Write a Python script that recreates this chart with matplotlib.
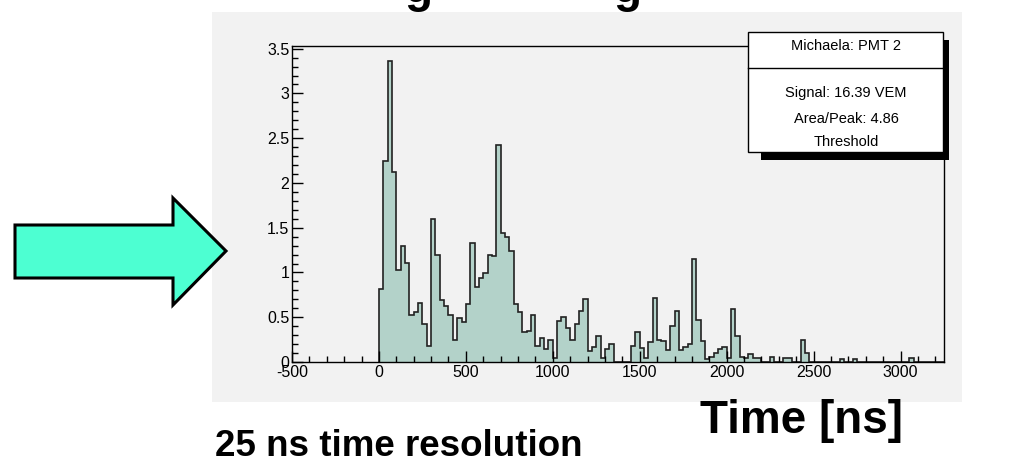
import numpy as np
import matplotlib
matplotlib.use("Agg")
import matplotlib.pyplot as plt
from matplotlib.patches import Rectangle, Polygon

# ---------------- data ----------------
bin_width = 25  # ns
first_edge = 0  # ns
counts = [
    0.82, 2.25, 3.36, 2.12, 1.03, 1.30, 1.11, 0.52, 0.56, 0.66,   # 0-250
    0.42, 0.18, 1.60, 1.20, 0.69, 0.62, 0.52, 0.25, 0.49, 0.45,   # 250-500
    0.65, 1.33, 0.84, 0.94, 0.99, 1.20, 1.18, 2.42, 1.44, 1.40,   # 500-750
    1.24, 0.65, 0.56, 0.33, 0.35, 0.53, 0.18, 0.27, 0.14, 0.25,   # 750-1000
    0.05, 0.46, 0.50, 0.38, 0.25, 0.42, 0.57, 0.70, 0.12, 0.17,   # 1000-1250
    0.29, 0.05, 0.15, 0.20, 0.00, 0.00, 0.00, 0.00, 0.18, 0.34,   # 1250-1500
    0.16, 0.04, 0.22, 0.72, 0.25, 0.23, 0.13, 0.40, 0.57, 0.13,   # 1500-1750
    0.17, 0.20, 1.15, 0.47, 0.24, 0.03, 0.06, 0.10, 0.14, 0.17,   # 1750-2000
    0.05, 0.59, 0.29, 0.06, 0.04, 0.09, 0.04, 0.04, 0.00, 0.00,   # 2000-2250
    0.06, 0.00, 0.00, 0.05, 0.04, 0.00, 0.00, 0.25, 0.10, 0.00,   # 2250-2500
    0.00, 0.00, 0.00, 0.00, 0.00, 0.00, 0.03, 0.00, 0.00, 0.03,   # 2500-2750
    0.00, 0.00, 0.00, 0.00, 0.00, 0.00, 0.00, 0.00, 0.00, 0.00,   # 2750-3000
    0.00, 0.00, 0.045, 0.00, 0.00, 0.00, 0.00, 0.00, 0.00, 0.00,  # 3000-3250
]
x_ticks = [-500, 0, 500, 1000, 1500, 2000, 2500, 3000]
y_ticks = [0, 0.5, 1, 1.5, 2, 2.5, 3, 3.5]
y_tick_labels = ["0", "0.5", "1", "1.5", "2", "2.5", "3", "3.5"]
x_range = (-490, 3250)
y_range = (0, 3.53)
stats_title = "Michaela: PMT 2"
stats_lines = ["Signal: 16.39 VEM", "Area/Peak: 4.86", "Threshold"]
x_label = "Time [ns]"
note = "25 ns time resolution"

# ---------------- figure ----------------
W, H = 1012, 463
fig = plt.figure(figsize=(W / 100, H / 100), dpi=100, facecolor="white")
FONT = ["Liberation Sans", "DejaVu Sans"]

def frac(x0, y0, x1, y1):
    return [x0 / W, 1 - y1 / H, (x1 - x0) / W, (y1 - y0) / H]

# background layer (pixel coordinates)
bg = fig.add_axes([0, 0, 1, 1], zorder=0)
bg.set_xlim(0, W)
bg.set_ylim(H, 0)
bg.axis("off")
bg.add_patch(Rectangle((212, 12), 962 - 212, 402 - 12, facecolor="#f2f2f2", edgecolor="none"))
arrow = Polygon([(15, 225), (173, 225), (173, 198), (226, 251), (173, 305), (173, 278), (15, 278)],
                closed=True, facecolor="#4dffd2", edgecolor="black", linewidth=2.2, joinstyle="miter")
bg.add_patch(arrow)
for gx in (418, 627):
    bg.text(gx, 1.5, "g", ha="center", va="baseline", fontsize=33, fontweight="bold",
            family=FONT, color="black")
bg.text(700, 433, x_label, ha="left", va="baseline", fontsize=33, fontweight="bold", family=FONT)
bg.text(215, 456, note, ha="left", va="baseline", fontsize=26.5, fontweight="bold", family=FONT)

# main histogram axes
ax = fig.add_axes(frac(292, 46, 944, 362), zorder=1)
ax.set_facecolor("#f2f2f2")
edges = first_edge + bin_width * np.arange(len(counts) + 1)
ax.stairs(counts, edges, fill=True, facecolor="#b3d2c9", edgecolor="none")
ax.stairs(counts, edges, fill=False, color="#222222", linewidth=1.2, baseline=0)
ax.set_xlim(*x_range)
ax.set_ylim(*y_range)
for s in ax.spines.values():
    s.set_linewidth(1.0)
    s.set_color("black")
ax.set_xticks(x_ticks)
ax.set_xticklabels([str(t) for t in x_ticks])
ax.set_xticks(np.arange(-400, 3250, 100), minor=True)
ax.set_yticks(y_ticks)
ax.set_yticklabels(y_tick_labels)
ax.set_yticks(np.arange(0, 3.55, 0.1), minor=True)
ax.tick_params(which="both", direction="in", top=False, right=False, colors="black")
ax.tick_params(which="major", length=8, width=1, labelsize=11.5, pad=2)
ax.tick_params(which="minor", length=4, width=1)
for lbl in ax.get_xticklabels() + ax.get_yticklabels():
    lbl.set_family(FONT)

# foreground layer: stats box
fg = fig.add_axes([0, 0, 1, 1], zorder=2)
fg.set_xlim(0, W)
fg.set_ylim(H, 0)
fg.axis("off")
fg.add_patch(Rectangle((761, 40), 949 - 761, 160 - 40, facecolor="black", edgecolor="none"))
fg.add_patch(Rectangle((748, 32), 943 - 748, 152 - 32, facecolor="white", edgecolor="black", linewidth=1.0))
fg.plot([748, 943], [68, 68], color="black", linewidth=1.0)
cx = 846
fg.text(cx, 46, stats_title, ha="center", va="center", fontsize=10.5, family=FONT)
for yy, line in zip((93, 119, 142), stats_lines):
    fg.text(cx, yy, line, ha="center", va="center", fontsize=10.5, family=FONT)

fig.savefig("out.png", dpi=100, facecolor="white")
